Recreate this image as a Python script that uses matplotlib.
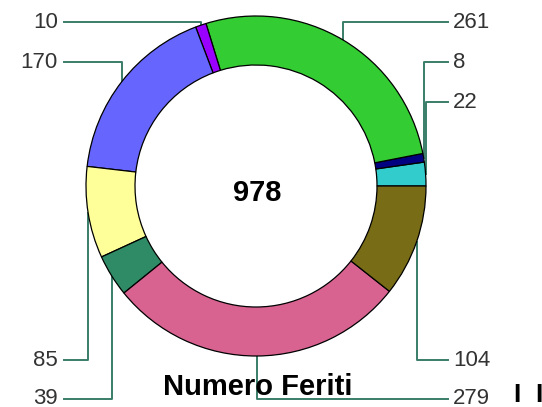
import numpy as np
import matplotlib.pyplot as plt

plt.rcParams['font.family'] = ['Liberation Sans', 'DejaVu Sans']

# slices, counterclockwise from 3 o'clock
values = [22, 8, 261, 10, 170, 85, 39, 279, 104]
colors = ['#33cccc', '#000080', '#33cc33', '#9900ff', '#6666ff',
          '#ffff99', '#2e8b66', '#d86391', '#786c17']
labels = [str(v) for v in values]
title = "Numero Feriti"

# label anchor positions (pixels, y from top) and side
label_pos = [(453, 102), (453, 62), (453, 22), (58, 22), (58, 62),
             (58, 360), (58, 399), (453, 399), (453, 360)]

W, H = 542, 407
fig = plt.figure(figsize=(W / 100, H / 100), dpi=100)
ax = fig.add_axes([0, 0, 1, 1])

cx, cy, R = 256, H - 186, 170
wedges, _ = ax.pie(values, colors=colors, startangle=0, counterclock=True,
                   center=(cx, cy), radius=R, frame=True,
                   wedgeprops=dict(width=49, edgecolor='black', linewidth=0.9))

line_c = '#3a7d68'
for w, lab, (lx, ly) in zip(wedges, labels, label_pos):
    ang = np.deg2rad((w.theta1 + w.theta2) / 2)
    px, py = cx + R * np.cos(ang), cy + R * np.sin(ang)
    ly = H - ly
    if lx < cx:
        xe, ha = lx + 6, 'right'
    else:
        xe, ha = lx - 5, 'left'
    ax.plot([px, px, xe], [py, ly, ly], color=line_c, lw=1.4, zorder=0)
    ax.text(lx, ly, lab, ha=ha, va='center', fontsize=16, color='#333333')

ax.text(cx + 1.5, H - 193, str(sum(values)), ha='center', va='center',
        fontsize=21, fontweight='bold', color='black')
ax.text(257.5, H - 387, title, ha='center', va='center',
        fontsize=21, fontweight='bold', color='black')
ax.text(529, H - 395, "I  I", ha='center', va='center', fontsize=19,
        fontweight='bold', color='black')

ax.set_xlim(0, W)
ax.set_ylim(0, H)
ax.set_aspect('equal')
ax.axis('off')

fig.savefig('out.png', dpi=100)
